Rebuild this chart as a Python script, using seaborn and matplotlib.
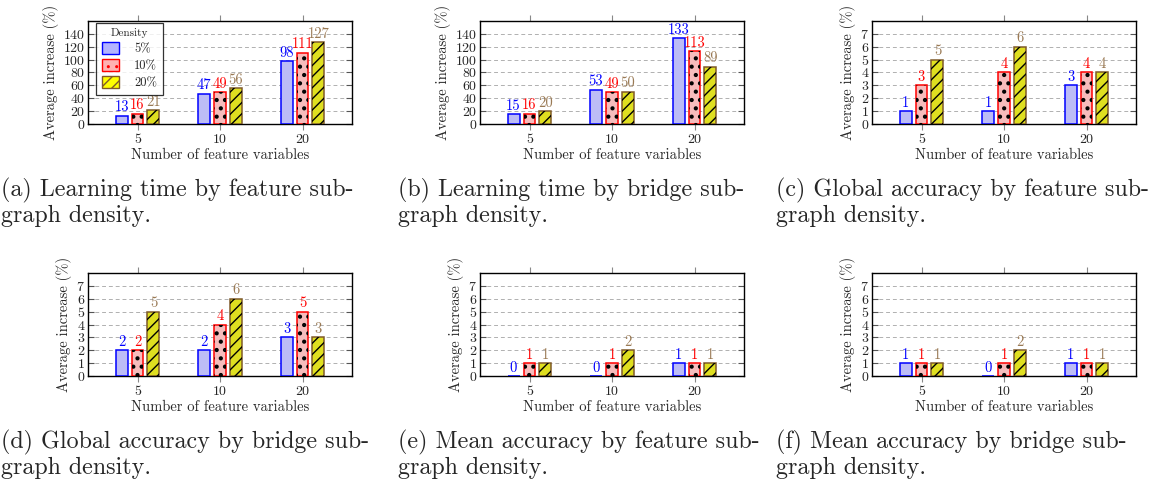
import numpy as np
import pandas as pd
import matplotlib
matplotlib.use('Agg')
import matplotlib.pyplot as plt
import seaborn as sns
from matplotlib.patches import Rectangle, Patch

sns.set_style('white')
plt.rcParams['font.family'] = ['cmr10', 'DejaVu Serif']
plt.rcParams['mathtext.fontset'] = 'cm'
plt.rcParams['axes.formatter.use_mathtext'] = True
plt.rcParams['hatch.linewidth'] = 1.0

# data
n_vars = ['5', '10', '20']
densities = ['5%', '10%', '20%']

a_learn_feature = [[13, 47, 98], [16, 49, 111], [21, 56, 127]]
b_learn_bridge = [[15, 53, 133], [16, 49, 113], [20, 50, 89]]
c_global_feature = [[1, 1, 3], [3, 4, 4], [5, 6, 4]]
d_global_bridge = [[2, 2, 3], [2, 4, 5], [5, 6, 3]]
e_mean_feature = [[0, 0, 1], [1, 1, 1], [1, 2, 1]]
f_mean_bridge = [[1, 0, 1], [1, 1, 1], [1, 2, 1]]

captions = ['(a) Learning time by feature sub-\ngraph density.',
            '(b) Learning time by bridge sub-\ngraph density.',
            '(c) Global accuracy by feature sub-\ngraph density.',
            '(d) Global accuracy by bridge sub-\ngraph density.',
            '(e) Mean accuracy by feature sub-\ngraph density.',
            '(f) Mean accuracy by bridge sub-\ngraph density.']

panels = [a_learn_feature, b_learn_bridge, c_global_feature,
          d_global_bridge, e_mean_feature, f_mean_bridge]

fills = ['#b3b3ff', '#ffb3b3', '#ffff00']
edges = ['#0000ff', '#ff0000', '#7f5a2a']
txtcol = ['#0000ff', '#ff0000', '#9a7a55']
hatches = [None, '..', '///']
hatch_lw = [1.0, 1.8, 1.0]

W, H = 1166, 493
fig = plt.figure(figsize=(W / 100, H / 100), dpi=100)

col_left = [88, 480, 872]
row_top = [21, 273]
ax_w, ax_h = 264, 103
cap_x = [1, 398, 776]


def draw_panel(ax, vals, ymax, yticks, legend=False):
    df = pd.DataFrame({
        'vars': np.tile(n_vars, 3),
        'density': np.repeat(densities, 3),
        'value': np.array(vals).ravel(),
    })
    sns.barplot(data=df, x='vars', y='value', hue='density', order=n_vars,
                hue_order=densities, palette=fills, width=0.58, gap=0.25,
                legend=False, ax=ax, zorder=3)
    for i, cont in enumerate(ax.containers):
        for bar in cont:
            bar.set_edgecolor(edges[i])
            bar.set_linewidth(1.1)
            if hatches[i]:
                hp = Rectangle(bar.get_xy(), bar.get_width(), bar.get_height(),
                               fill=False, edgecolor='black', lw=0,
                               hatch=hatches[i], zorder=3.5)
                if hasattr(hp, 'set_hatch_linewidth'):
                    hp.set_hatch_linewidth(hatch_lw[i])
                ax.add_patch(hp)
        ax.bar_label(cont, labels=[str(v) for v in vals[i]], color=txtcol[i],
                     fontsize=10.5, padding=1)
    ax.set_xlim(-0.6, 2.6)
    ax.set_ylim(0, ymax)
    ax.set_yticks(yticks)
    ax.yaxis.grid(True, ls=(0, (4, 3)), color='#b0b0b0', lw=0.7)
    ax.set_axisbelow(True)
    for s in ax.spines.values():
        s.set_color('black')
        s.set_linewidth(1.0)
    ax.tick_params(axis='x', which='both', direction='out', length=4, color='#888888',
                   top=True, bottom=True, labelsize=10, pad=3)
    ax.tick_params(axis='y', which='both', direction='in', length=4, color='#555555',
                   left=True, right=True, labelsize=10, pad=2)
    ax.set_xlabel('Number of feature variables', fontsize=10.5, labelpad=2)
    ax.set_ylabel('Average increase (%)', fontsize=10.5, labelpad=3)
    if legend:
        handles = [Patch(facecolor=fills[i], edgecolor=edges[i], hatch=hatches[i])
                   for i in range(3)]
        leg = ax.legend(handles, densities, title='Density', loc='upper left',
                        bbox_to_anchor=(0.03, 0.985),
                        fontsize=9, title_fontsize=8, frameon=True, fancybox=False,
                        edgecolor='black', handlelength=1.4, handleheight=1.1,
                        borderpad=0.45, labelspacing=0.3, borderaxespad=0.0,
                        handletextpad=1.2)
        leg.get_frame().set_linewidth(0.9)
        leg.set_zorder(10)


for k, vals in enumerate(panels):
    r, c = divmod(k, 3)
    left = col_left[c] / W
    bottom = 1 - (row_top[r] + ax_h) / H
    ax = fig.add_axes([left, bottom, ax_w / W, ax_h / H])
    if k < 2:
        draw_panel(ax, vals, 160, range(0, 141, 20), legend=(k == 0))
    else:
        draw_panel(ax, vals, 8, range(0, 8))
    cap_y = 1 - (row_top[r] + 157) / H
    fig.text(cap_x[c] / W, cap_y, captions[k], fontsize=17.3, va='top', ha='left',
             linespacing=1.1)

plt.savefig('out.png', dpi=100)
